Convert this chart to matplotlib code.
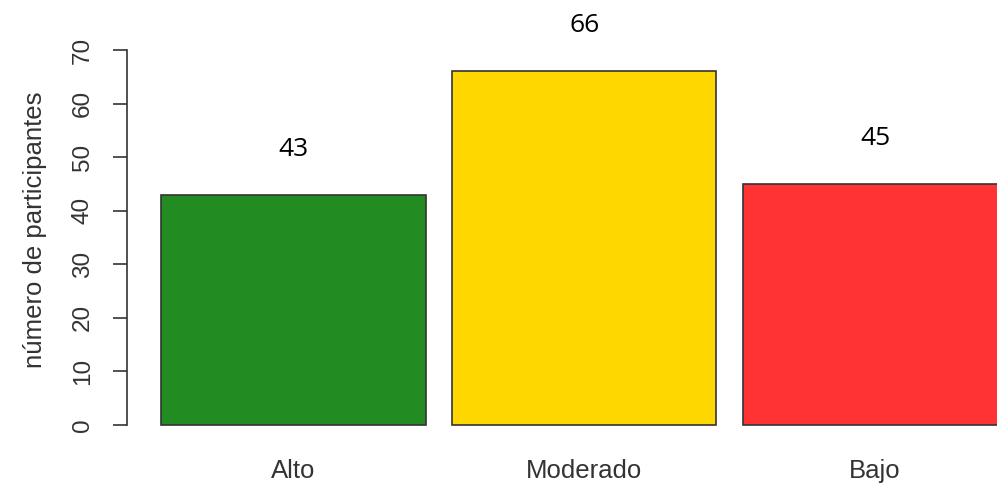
import matplotlib
matplotlib.use("Agg")
import matplotlib.pyplot as plt
import numpy as np

categories = ["Alto", "Moderado", "Bajo"]
values = [43, 66, 45]
colors = ["#228B22", "#FFD700", "#FF3333"]
ylabel = "número de participantes"

plt.rcParams['font.family'] = ['Liberation Sans', 'DejaVu Sans']

fig = plt.figure(figsize=(9.97, 4.87), dpi=100)
W, H = 997, 487
# axes in pixel geometry: left 127, right 997, top 20, bottom 440
ax = fig.add_axes([127 / W, (H - 440) / H, 870 / W, 420 / H])

x = np.arange(len(categories)) * 1.1
ax.bar(x, values, width=1.0, color=colors, edgecolor="#333333", linewidth=1.2)

px = 70 / 375.0
ax.set_ylim(-15 * px, 70 + 30 * px)
unit = 264.5
ax.set_xlim(-0.5 - 34 / unit, -0.5 + 836 / unit)

for xi, v in zip(x, values):
    ax.text(xi, v + 8.5, str(v), ha="center", va="center",
            fontsize=19, family=["Open Sans", "DejaVu Sans"], clip_on=False)

for s in ["top", "right", "bottom"]:
    ax.spines[s].set_visible(False)
ax.spines["left"].set_bounds(0, 70)
ax.spines["left"].set_color("#333333")
ax.spines["left"].set_linewidth(1.2)

ax.set_yticks(np.arange(0, 71, 10))
ax.set_yticklabels([str(t) for t in range(0, 71, 10)], rotation=90, va="center",
                   fontsize=17.5, color="#333333")
ax.tick_params(axis="y", length=10, width=1.2, color="#333333", pad=14)

ax.set_xticks(x)
ax.set_xticklabels(categories, fontsize=18.5, color="#333333")
ax.tick_params(axis="x", length=0, pad=14)

ax.set_ylabel(ylabel, fontsize=18.5, color="#333333", labelpad=18)

fig.savefig("out.png", dpi=100)
